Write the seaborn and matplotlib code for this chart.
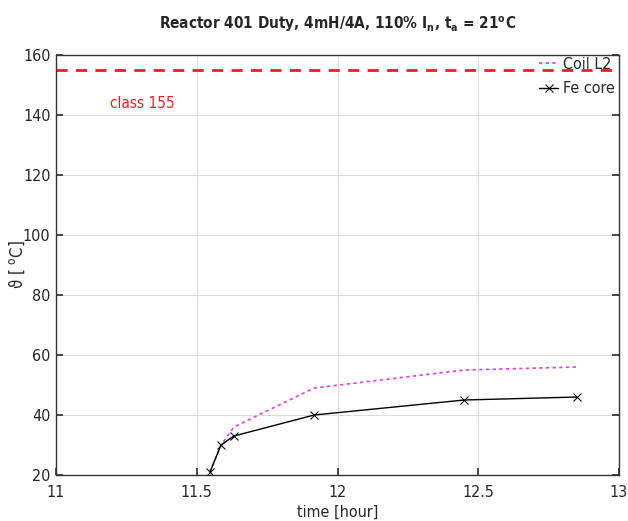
import matplotlib
matplotlib.use("Agg")
import matplotlib.pyplot as plt
import seaborn as sns
import pandas as pd

# Measured temperatures over time
time_fe = [11.547, 11.586, 11.632, 11.917, 12.45, 12.85]
temp_fe = [21, 30, 33, 40, 45, 46]
time_coil = [11.547, 11.586, 11.632, 11.917, 12.45, 12.85]
temp_coil = [21, 30, 36, 49, 55, 56]
class_limit = 155
class_label = "class 155"

sns.set_theme(style="whitegrid")
plt.rcParams["font.family"] = ["DejaVu Sans"]
plt.rcParams["font.stretch"] = "condensed"
plt.rcParams["mathtext.default"] = "regular"

df = pd.concat([
    pd.DataFrame({"time": time_coil, "temp": temp_coil, "series": "Coil L2"}),
    pd.DataFrame({"time": time_fe, "temp": temp_fe, "series": "Fe core"}),
])

fig = plt.figure(figsize=(6.28, 5.21), dpi=100)
ax = fig.add_axes([0.0892, 0.0883, 0.8965, 0.806])

sns.lineplot(data=df[df.series == "Coil L2"], x="time", y="temp", ax=ax,
             color="#e040e0", linestyle=(0, (2, 2)), linewidth=1.2, label="Coil L2")
sns.lineplot(data=df[df.series == "Fe core"], x="time", y="temp", ax=ax,
             color="black", linewidth=1.0, marker="x", markersize=6,
             markeredgecolor="black", label="Fe core")

ax.axhline(class_limit, color="#e82020", linestyle=(0, (4, 3)), linewidth=2)
ax.text(11.19, 144, class_label, color="#e82020", fontsize=11, va="center",
        fontstretch="condensed")

ax.set_xlim(11, 13)
ax.set_ylim(20, 160)
ax.set_xticks([11, 11.5, 12, 12.5, 13])
ax.set_xticklabels(["11", "11.5", "12", "12.5", "13"])
ax.set_yticks(range(20, 161, 20))
ax.grid(True, color="#dcdcdc", linewidth=0.8)
ax.tick_params(direction="in", length=5, labelsize=11.5, colors="#333333",
               right=True, top=False, left=True, bottom=True)
ax.tick_params(axis="x", pad=7)
ax.tick_params(axis="y", pad=4)
ax.tick_params(axis="both", labelcolor="#262626")
for lbl in ax.get_xticklabels() + ax.get_yticklabels():
    lbl.set_fontstretch("condensed")
for side, sp in ax.spines.items():
    sp.set_color("#333333")
    sp.set_linewidth(1.0)
    sp.set_visible(True)
ax.set_facecolor("white")

ax.set_xlabel("time [hour]", fontsize=11.5, labelpad=4, color="#262626",
              fontstretch="condensed")
ax.set_ylabel("ϑ [ $^o$C]", fontsize=12, color="#262626",
              fontstretch="condensed")
ax.yaxis.set_label_coords(-0.052, 0.5)
ax.set_title("Reactor 401 Duty, 4mH/4A, 110% I$_n$, t$_a$ = 21$^o$C",
             fontsize=11, fontweight="bold", pad=19, fontstretch="condensed")

leg = ax.legend(loc="upper right", bbox_to_anchor=(1.018, 1.03), frameon=False,
                prop={"size": 11.5, "stretch": "condensed"},
                handlelength=1.2, handletextpad=0.3, labelspacing=0.6)

fig.savefig("out.png", dpi=100, facecolor="white")
